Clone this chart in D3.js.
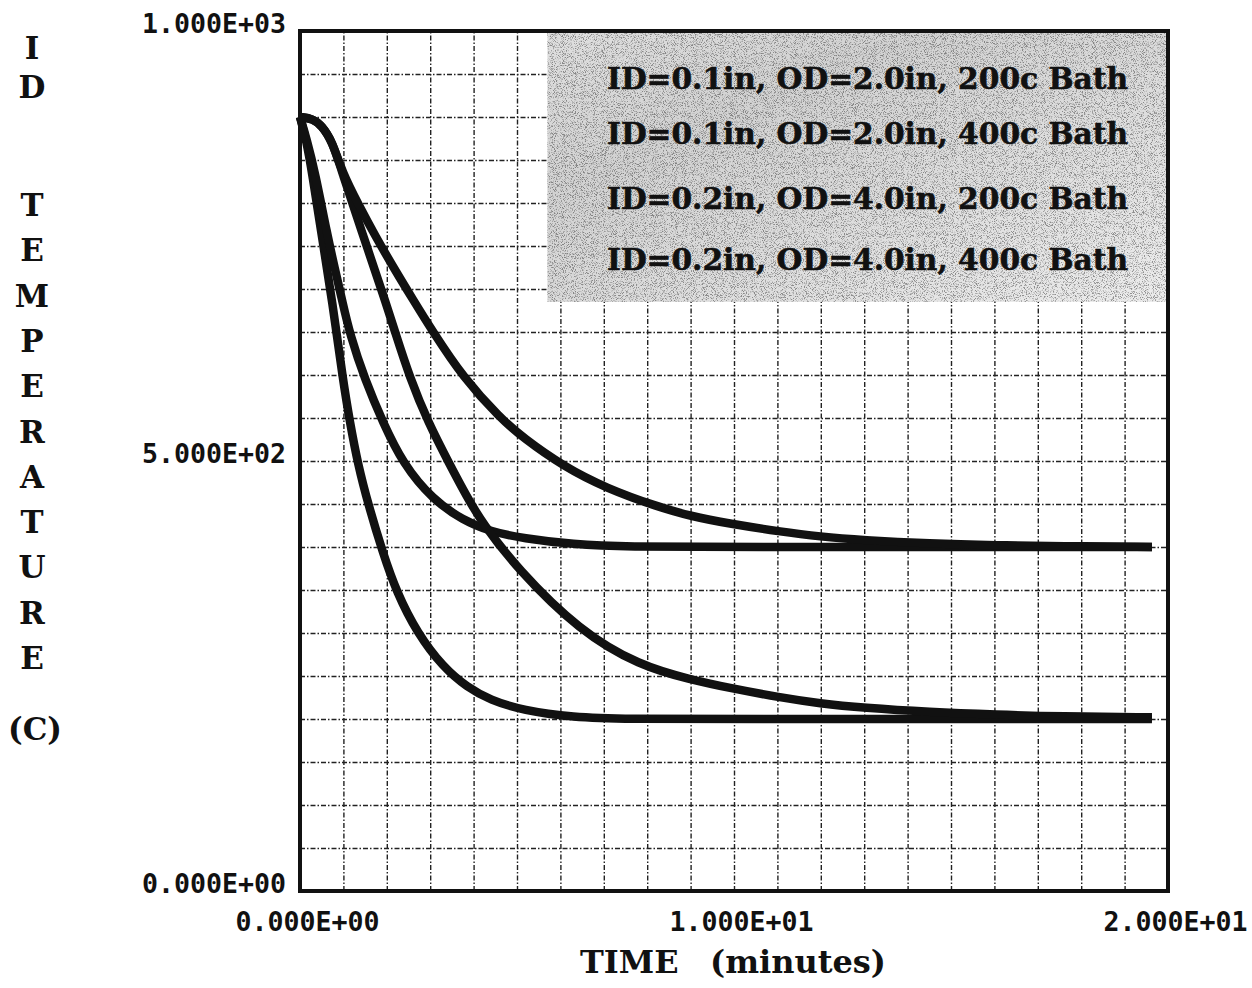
<!DOCTYPE html>
<html>
<head>
<meta charset="utf-8">
<script src="https://cdn.jsdelivr.net/npm/d3@7"></script>
<style>
  body { margin: 0; background: #fff; }
  .tick text { font-family: "DejaVu Sans Mono", monospace; font-size: 27px; font-weight: bold; fill: #111; }
  .lbl { font-family: "DejaVu Serif", serif; font-weight: bold; fill: #111; }
</style>
</head>
<body>
<svg id="chart" width="1252" height="988"></svg>
<script>
// ID temperature (C) against time (minutes)
var timeA = [0, 0.15, 0.28, 0.51, 0.74, 0.99, 1.15, 1.34, 1.57, 1.91, 2.23, 2.7, 3.3, 3.85, 4.38, 5.14, 6.29, 7.5, 10, 19.63];
var tempA = [900, 872, 835, 759, 687, 594, 545, 495, 450, 393, 347, 300, 260, 237, 222, 210, 202, 200, 200, 200];

var timeB = [0, 0.15, 0.35, 0.62, 0.81, 0.97, 1.15, 1.5, 1.91, 2.37, 3.06, 3.76, 4.38, 5.14, 6.29, 7.5, 10, 19.63];
var tempB = [900, 875, 835, 765, 722, 687, 647, 594, 545, 497, 455, 431, 418, 410, 403, 400, 400, 400];

var timeC = [0, 0.3, 0.5, 0.74, 0.97, 1.4, 1.96, 2.19, 2.53, 2.95, 3.46, 3.85, 4.2, 5.0, 6.45, 7.83, 8.99, 9.9, 11.06, 11.98, 12.97, 14.5, 16.06, 17.5, 19.63];
var tempC = [900, 898, 890, 872, 836, 770, 687, 650, 597, 545, 495, 458, 428, 375, 302, 262, 246, 236, 225, 218, 213, 208, 205, 203, 202];

var timeD = [0, 0.3, 0.5, 0.74, 0.97, 1.35, 1.73, 2.19, 2.6, 3.04, 3.76, 4.61, 5.14, 6.06, 7.07, 8.23, 8.99, 9.9, 11.06, 11.98, 12.97, 14.5, 16.06, 17.5, 19.63];
var tempD = [900, 898, 890, 872, 836, 798, 762, 722, 688, 652, 597, 550, 527, 494, 468, 447, 436, 427, 418, 412, 408, 404, 402, 401, 400];

var legendLabels = [
  "ID=0.1in, OD=2.0in, 200c Bath",
  "ID=0.1in, OD=2.0in, 400c Bath",
  "ID=0.2in, OD=4.0in, 200c Bath",
  "ID=0.2in, OD=4.0in, 400c Bath"
];
var xTicks = [0, 10, 20];
var yTicks = [0, 500, 1000];
var yTitleTop = ["I", "D"];
var yTitleMain = ["T", "E", "M", "P", "E", "R", "A", "T", "U", "R", "E"];
var yTitleUnit = "(C)";

var series = [
  {t: timeA, v: tempA},
  {t: timeB, v: tempB},
  {t: timeC, v: tempC},
  {t: timeD, v: tempD}
];

var margin = {top: 31, right: 84, bottom: 97, left: 300},
    width = 1252 - margin.left - margin.right,
    height = 988 - margin.top - margin.bottom;

var x = d3.scaleLinear().domain([0, 20]).range([0, width]);
var y = d3.scaleLinear().domain([0, 1000]).range([height, 0]);

function sci(v) {
  var p = d3.format(".3e")(v).split("e");
  var e = +p[1];
  return p[0] + "E" + (e < 0 ? "-" : "+") + String(Math.abs(e)).padStart(2, "0");
}

var svg = d3.select("#chart");
var defs = svg.append("defs");

// speckled grey behind the legend
var grad = defs.append("linearGradient").attr("id", "legGrad")
    .attr("x1", "0").attr("y1", "0").attr("x2", "1").attr("y2", "1");
grad.append("stop").attr("offset", "0").attr("stop-color", "#e0e0e0");
grad.append("stop").attr("offset", "0.3").attr("stop-color", "#d2d2d2");
grad.append("stop").attr("offset", "1").attr("stop-color", "#ececec");

var grain = defs.append("filter").attr("id", "grain")
    .attr("x", 0).attr("y", 0).attr("width", 1).attr("height", 1);
grain.append("feTurbulence")
    .attr("type", "fractalNoise").attr("baseFrequency", "1.1")
    .attr("numOctaves", 2).attr("seed", 7).attr("result", "noise");
grain.append("feColorMatrix").attr("in", "noise").attr("type", "matrix")
    .attr("values", "0 0 0 0 0  0 0 0 0 0  0 0 0 0 0  5 0 0 0 -2.5")
    .attr("result", "dots");
grain.append("feComposite").attr("in", "dots").attr("in2", "SourceGraphic").attr("operator", "in");

var g = svg.append("g")
    .attr("transform", "translate(" + margin.left + "," + margin.top + ")");

// grid
g.append("g")
    .attr("class", "grid")
    .attr("transform", "translate(0," + height + ")")
    .call(d3.axisBottom(x).tickValues(d3.range(1, 20)).tickSize(-height).tickFormat(""));
g.append("g")
    .attr("class", "grid")
    .call(d3.axisLeft(y).tickValues(d3.range(50, 1000, 50)).tickSize(-width).tickFormat(""));
g.selectAll(".grid .domain").remove();
g.selectAll(".grid line")
    .attr("stroke", "#222")
    .attr("stroke-width", 1.4)
    .attr("stroke-dasharray", "5 2 1.5 2");

// legend background
var legX = x(5.7), legW = width - legX, legH = y(685);
g.append("rect").attr("x", legX).attr("y", 0).attr("width", legW).attr("height", legH)
    .attr("fill", "url(#legGrad)");
g.append("rect").attr("x", legX).attr("y", 0).attr("width", legW).attr("height", legH)
    .attr("fill", "#000").attr("opacity", 0.38).attr("filter", "url(#grain)");

var legendBase = [58, 113, 178, 239];
g.selectAll(".leg")
    .data(legendLabels)
  .enter().append("text")
    .attr("class", "lbl")
    .attr("x", 307)
    .attr("y", function(d, i) { return legendBase[i]; })
    .attr("font-size", 30)
    .attr("stroke", "#111").attr("stroke-width", 0.6)
    .attr("textLength", 521)
    .attr("lengthAdjust", "spacingAndGlyphs")
    .text(function(d) { return d; });

// curves
var line = d3.line()
    .x(function(d) { return x(d[0]); })
    .y(function(d) { return y(d[1]); })
    .curve(d3.curveBasis);

g.selectAll(".curve")
    .data(series)
  .enter().append("path")
    .attr("class", "curve")
    .attr("fill", "none")
    .attr("stroke", "#111")
    .attr("stroke-width", 8.5)
    .attr("stroke-linecap", "butt")
    .attr("stroke-linejoin", "round")
    .attr("d", function(s) { return line(s.t.map(function(t, i) { return [t, s.v[i]]; })); });

// frame
g.append("rect")
    .attr("x", 0).attr("y", 0).attr("width", width).attr("height", height)
    .attr("fill", "none").attr("stroke", "#111").attr("stroke-width", 4);

// axes
var xAxis = g.append("g")
    .attr("transform", "translate(0," + height + ")")
    .call(d3.axisBottom(x).tickValues(xTicks).tickSize(0).tickFormat(sci));
xAxis.select(".domain").remove();
xAxis.selectAll("text")
    .attr("y", 40).attr("dy", null).attr("dx", 7)
    .attr("textLength", 144).attr("lengthAdjust", "spacingAndGlyphs");

var yAxis = g.append("g")
    .call(d3.axisLeft(y).tickValues(yTicks).tickSize(0).tickFormat(sci));
yAxis.select(".domain").remove();
yAxis.selectAll("text")
    .attr("x", -14).attr("dy", 1)
    .attr("textLength", 144).attr("lengthAdjust", "spacingAndGlyphs");

// axis titles
svg.append("text").attr("class", "lbl").attr("font-size", 32)
    .attr("x", 580).attr("y", 973).text("TIME");
svg.append("text").attr("class", "lbl").attr("font-size", 32)
    .attr("x", 710).attr("y", 973).text("(minutes)");

svg.selectAll(".ytop")
    .data(yTitleTop)
  .enter().append("text")
    .attr("class", "lbl").attr("font-size", 31)
    .attr("text-anchor", "middle")
    .attr("x", 32)
    .attr("y", function(d, i) { return 59 + i * 39; })
    .text(function(d) { return d; });

svg.selectAll(".ymain")
    .data(yTitleMain)
  .enter().append("text")
    .attr("class", "lbl").attr("font-size", 31)
    .attr("text-anchor", "middle")
    .attr("x", 32)
    .attr("y", function(d, i) { return 216 + i * 45.3; })
    .text(function(d) { return d; });

svg.append("text").attr("class", "lbl").attr("font-size", 31)
    .attr("text-anchor", "middle")
    .attr("x", 35).attr("y", 740)
    .text(yTitleUnit);
</script>
</body>
</html>
